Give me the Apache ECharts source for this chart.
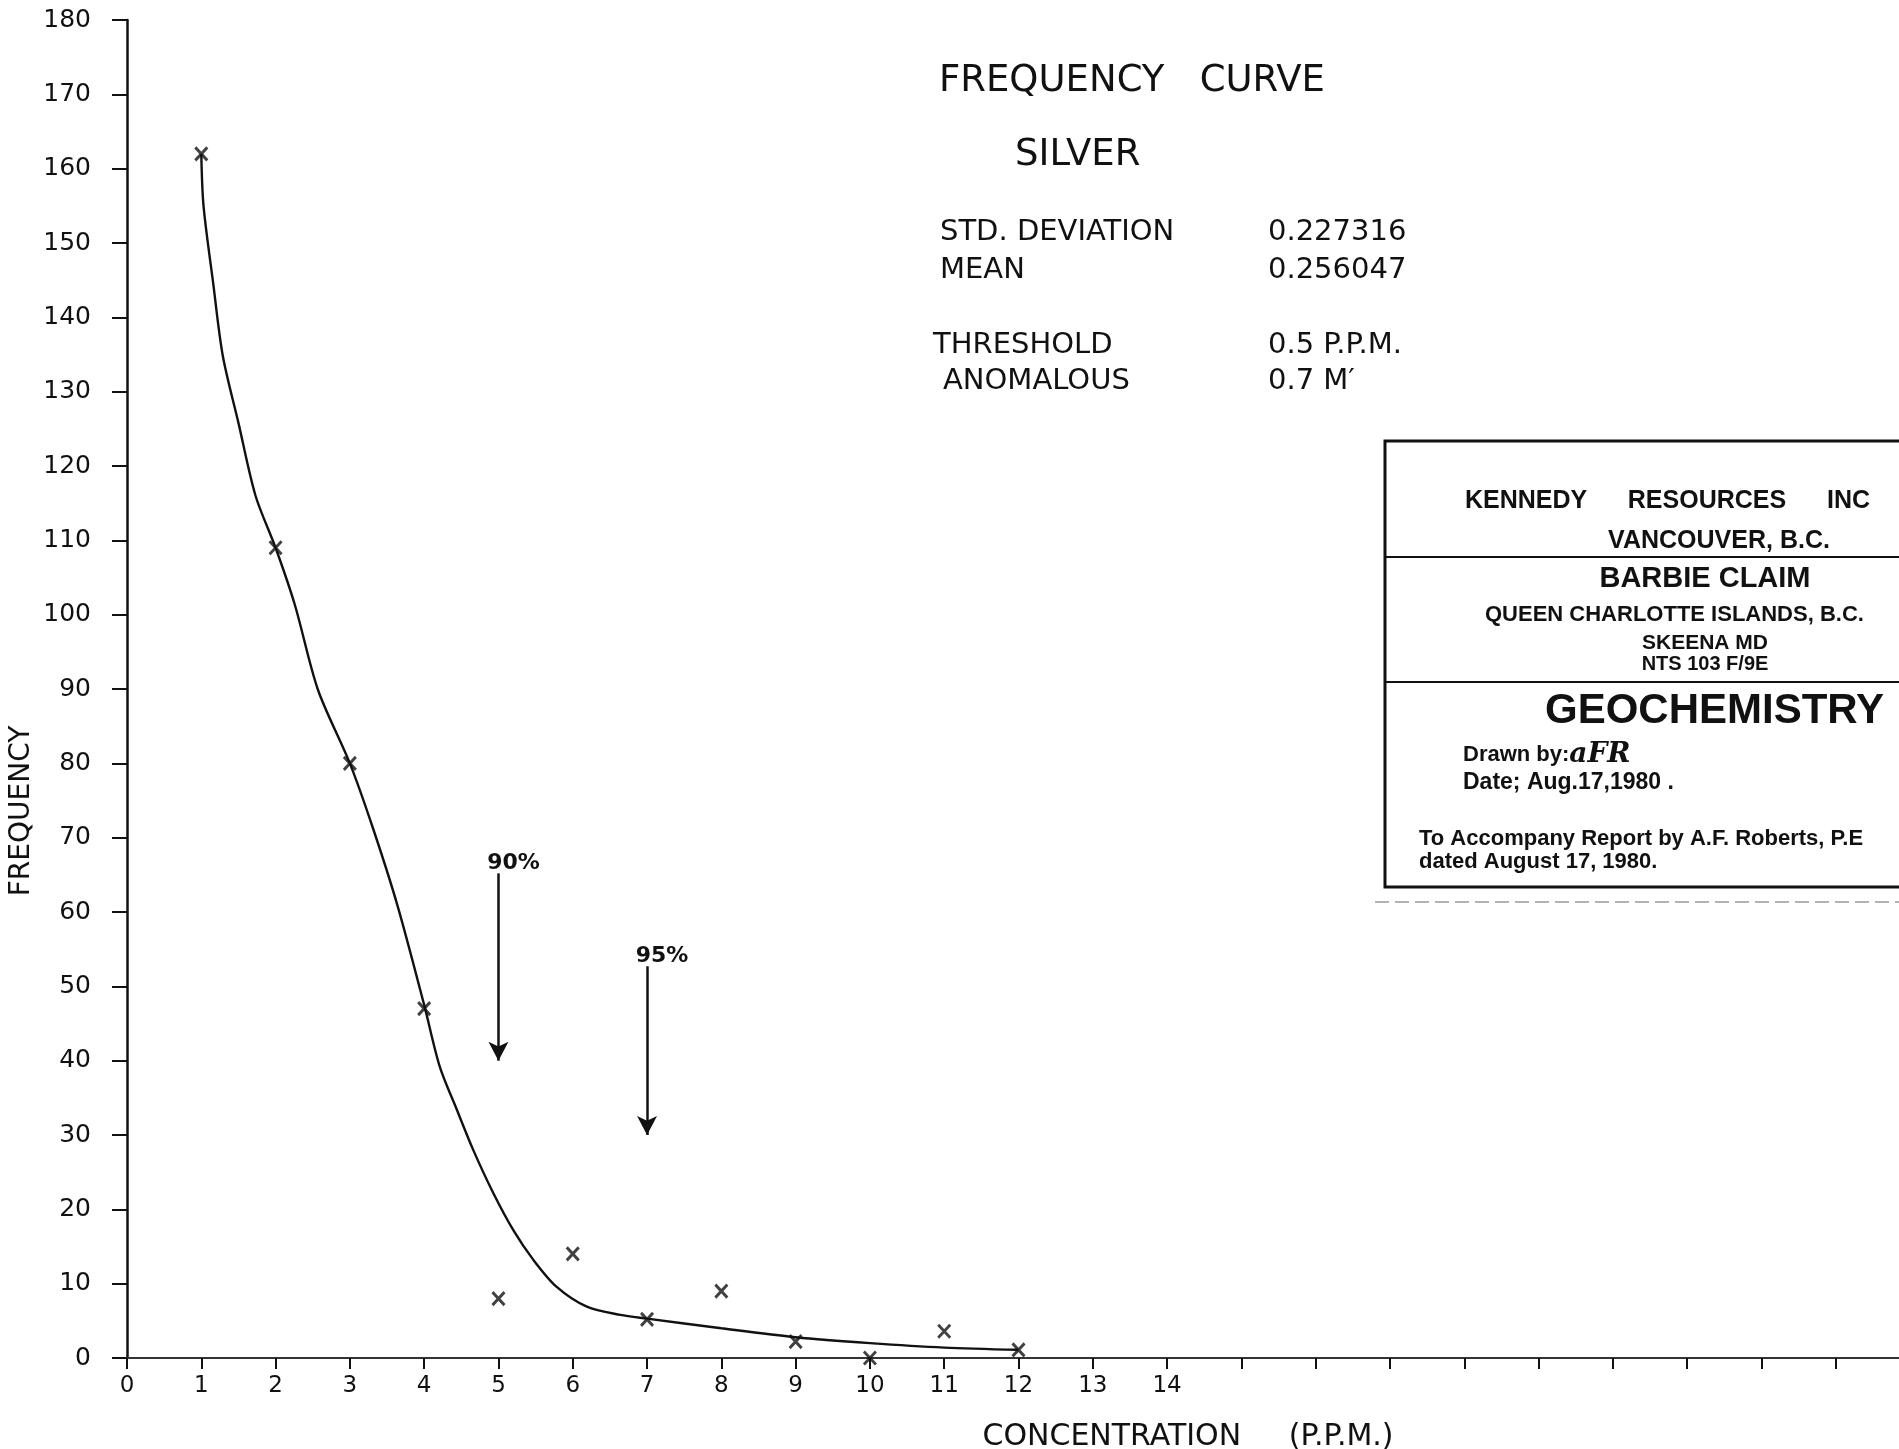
<!DOCTYPE html>
<html>
<head>
<meta charset="utf-8">
<style>
  html, body { margin: 0; padding: 0; background: #ffffff; }
  #chart { width: 1899px; height: 1449px; }
</style>
<script src="https://cdn.jsdelivr.net/npm/echarts@6/dist/echarts.min.js"></script>
</head>
<body>
<div id="chart"></div>
<script>
// ---- data ----
const concentration = [1, 2, 3, 4, 5, 6, 7, 8, 9, 10, 11, 12];
const frequency = [162, 109, 80, 47, 8, 14, 5.2, 9, 2.2, 0, 3.6, 1.1];

const curveX = [1, 1.03, 1.16, 1.29, 1.5, 1.73, 2, 2.26, 2.57, 3, 3.31, 3.64, 4, 4.21, 4.44, 4.66, 4.93, 5.2, 5.47, 5.78, 6.19, 6.64, 7, 8, 9, 10, 11, 12];
const curveY = [162, 155, 144.6, 134.8, 125.8, 116, 109, 101.3, 89.9, 80, 71.3, 60.9, 47.5, 39.2, 33.4, 28, 22.2, 17.2, 13.2, 9.6, 6.9, 5.8, 5.3, 4.0, 2.8, 2.0, 1.4, 1.1];

const arrowX = [5, 7];
const arrowTop = [65.2, 52.7];
const arrowTip = [40, 30];
const arrowLabels = ['90%', '95%'];

const xLabelMax = 14;

const statsLabels = ['STD. DEVIATION', 'MEAN', 'THRESHOLD', 'ANOMALOUS'];
const statsValues = ['0.227316', '0.256047', '0.5 P.P.M.', '0.7 M′'];

// ---- build ----
const HAND = '"DejaVu Sans", sans-serif';
const BOX = '"Liberation Sans", Arial, sans-serif';
const INK = '#111111';

const chart = echarts.init(document.getElementById('chart'), null, { renderer: 'canvas' });

const markerData = concentration.map((x, i) => [x, frequency[i]]);
const curveData = curveX.map((x, i) => [x, curveY[i]]);
const arrowData = arrowX.map((x, i) => [
  { coord: [x, arrowTop[i]], label: { formatter: arrowLabels[i] } },
  { coord: [x, arrowTip[i]] }
]);

function txt(text, x, y, font, align, extra) {
  return Object.assign({
    type: 'text', x: x, y: y, silent: true,
    style: { text: text, font: font, fill: INK, textAlign: align || 'left', textVerticalAlign: 'middle', verticalAlign: 'middle' }
  }, extra || {});
}

const statsY = [232, 270, 345, 381];
const statsX = [940, 940, 933, 943];

const graphics = [
  txt('FREQUENCY   CURVE', 939, 81, '37px ' + HAND),
  txt('SILVER', 1015, 155, '37px ' + HAND),
  txt('FREQUENCY', 22, 811, '28px ' + HAND, 'center', { rotation: Math.PI / 2 }),
  txt('CONCENTRATION     (P.P.M.)', 1188, 1437, '30px ' + HAND, 'center'),
  // title block
  { type: 'rect', silent: true, shape: { x: 1385, y: 441, width: 600, height: 446 },
    style: { fill: 'none', stroke: INK, lineWidth: 3 } },
  { type: 'line', silent: true, shape: { x1: 1385, y1: 557, x2: 1899, y2: 557 }, style: { stroke: INK, lineWidth: 2 } },
  { type: 'line', silent: true, shape: { x1: 1385, y1: 682, x2: 1899, y2: 682 }, style: { stroke: INK, lineWidth: 2 } },
  { type: 'line', silent: true, shape: { x1: 1375, y1: 902, x2: 1899, y2: 902 }, style: { stroke: '#9a9a9a', lineWidth: 1.5, lineDash: [14, 6] } },
  txt('KENNEDY', 1465, 501, 'bold 25px ' + BOX),
  txt('RESOURCES', 1707, 501, 'bold 25px ' + BOX, 'center'),
  txt('INC', 1827, 501, 'bold 25px ' + BOX),
  txt('VANCOUVER, B.C.', 1719, 541, 'bold 25px ' + BOX, 'center'),
  txt('BARBIE CLAIM', 1705, 579, 'bold 29px ' + BOX, 'center'),
  txt('QUEEN CHARLOTTE ISLANDS, B.C.', 1485, 615, 'bold 22px ' + BOX),
  txt('SKEENA MD', 1705, 643, 'bold 21px ' + BOX, 'center'),
  txt('NTS 103 F/9E', 1705, 664, 'bold 20px ' + BOX, 'center'),
  txt('GEOCHEMISTRY', 1545, 711, 'bold 42px ' + BOX),
  { type: 'text', x: 1463, y: 755, silent: true,
    style: {
      text: '{a|Drawn by:}{b|aFR}', verticalAlign: 'middle', textVerticalAlign: 'middle', fill: INK,
      rich: {
        a: { font: 'bold 22px ' + BOX, fill: INK, color: INK },
        b: { font: 'bold italic 28px "DejaVu Serif", serif', fill: INK, color: INK }
      }
    } },
  txt('Date; Aug.17,1980 .', 1463, 783, 'bold 23px ' + BOX),
  txt('To Accompany Report by A.F. Roberts, P.E', 1419, 839, 'bold 22px ' + BOX),
  txt('dated August 17, 1980.', 1419, 862, 'bold 22px ' + BOX)
];
statsLabels.forEach((s, i) => {
  graphics.push(txt(s, statsX[i], statsY[i], '29px ' + HAND));
  graphics.push(txt(statsValues[i], 1268, statsY[i], '29px ' + HAND));
});

const option = {
  backgroundColor: '#ffffff',
  animation: false,
  grid: { left: 127, right: -11, top: 20, bottom: 91, containLabel: false, outerBoundsMode: 'none' },
  xAxis: {
    type: 'value', min: 0, max: 24, interval: 1,
    axisLine: { show: true, onZero: false, lineStyle: { color: '#333', width: 2 } },
    axisTick: { show: true, inside: false, length: 11, lineStyle: { color: INK, width: 2 } },
    axisLabel: {
      show: true, margin: 17, color: INK, fontFamily: HAND, fontSize: 23,
      formatter: v => (v <= xLabelMax && Number.isInteger(v)) ? String(v) : ''
    },
    splitLine: { show: false }
  },
  yAxis: {
    type: 'value', min: 0, max: 180, interval: 10,
    axisLine: { show: true, lineStyle: { color: INK, width: 2.5 } },
    axisTick: { show: true, inside: false, length: 15, lineStyle: { color: INK, width: 2 } },
    axisLabel: { show: true, margin: 36, color: INK, fontFamily: HAND, fontSize: 25 },
    splitLine: { show: false }
  },
  series: [
    {
      type: 'line', name: 'curve', data: curveData, smooth: 0.3, showSymbol: false,
      lineStyle: { color: INK, width: 2.4 }, z: 2,
      markLine: {
        silent: true, symbol: ['none', 'arrow'], symbolSize: [15, 19], precision: 1,
        lineStyle: { color: INK, width: 2.5, type: 'solid' },
        label: { show: true, position: 'start', distance: 0, offset: [15, 1], color: INK,
                 fontFamily: HAND, fontSize: 22, fontWeight: 'bold' },
        data: arrowData
      }
    },
    {
      type: 'scatter', name: 'frequency', data: markerData,
      symbol: 'path://M0,0L10,12M10,0L0,12', symbolSize: [12, 13],
      itemStyle: { color: 'rgba(0,0,0,0)', borderColor: INK, borderWidth: 3 }, z: 3
    }
  ],
  graphic: graphics
};

chart.setOption(option);
</script>
</body>
</html>
